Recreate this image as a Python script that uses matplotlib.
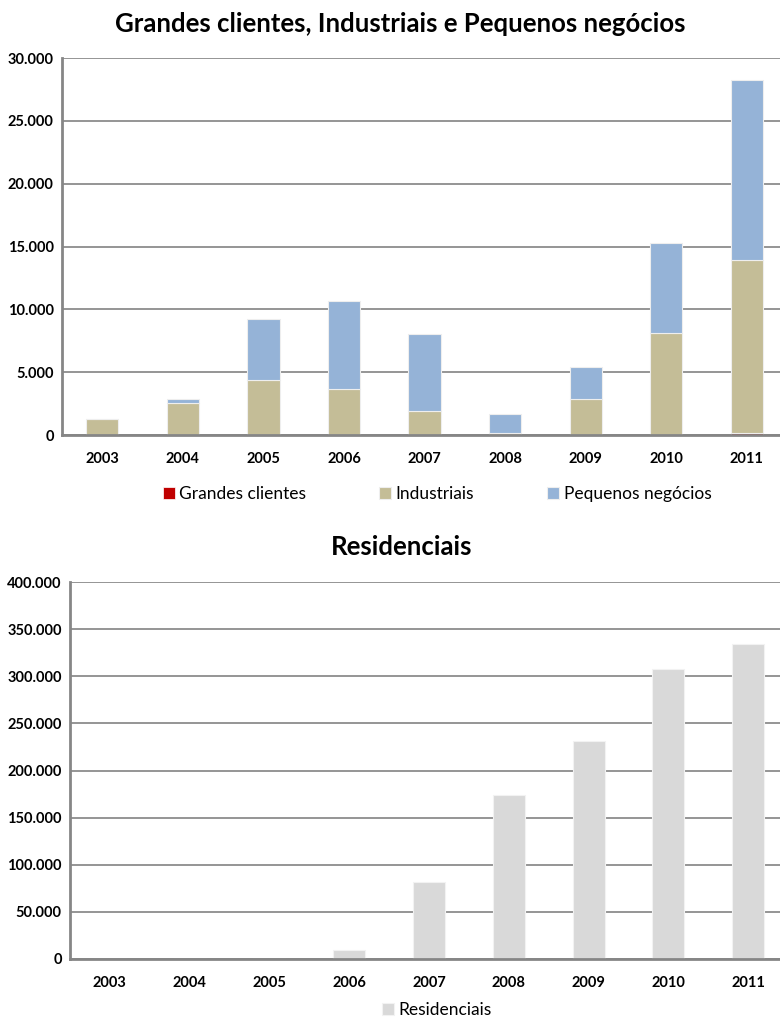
import numpy as np
import matplotlib.pyplot as plt
from matplotlib.ticker import FuncFormatter, MultipleLocator

plt.rcParams['font.family'] = ['Lato', 'DejaVu Sans']

anos = ['2003', '2004', '2005', '2006', '2007', '2008', '2009', '2010', '2011']

# Clientes por segmento (valores anuais)
grandes_clientes = [0, 0, 0, 0, 0, 0, 0, 0, 150]
industriais = [1270, 2520, 4380, 3630, 1940, 130, 2840, 8120, 13780]
pequenos_negocios = [0, 320, 4850, 7030, 6100, 1540, 2540, 7130, 14350]
residenciais = [0, 0, 0, 9200, 81800, 174200, 231500, 308000, 334200]

cor_grandes = '#C00000'
cor_ind = '#C4BD97'
cor_peq = '#95B3D7'
cor_res = '#D9D9D9'
cor_grade = '#8C8C8C'


def milhar(v, pos):
    return '{:,.0f}'.format(v).replace(',', '.')


def estilo_eixo(ax, ymax, passo):
    ax.set_xlim(-0.5, len(anos) - 0.5)
    ax.set_ylim(0, ymax)
    ax.yaxis.set_major_locator(MultipleLocator(passo))
    ax.yaxis.set_major_formatter(FuncFormatter(milhar))
    ax.set_xticks(range(len(anos)))
    ax.set_xticklabels(anos)
    ax.grid(axis='y', color=cor_grade, lw=1.3)
    ax.set_axisbelow(True)
    for s in ['top', 'right']:
        ax.spines[s].set_visible(False)
    for s in ['left', 'bottom']:
        ax.spines[s].set_color('#868686')
        ax.spines[s].set_linewidth(2)
    ax.tick_params(length=0, labelsize=10.5, pad=12)
    ax.tick_params(axis='y', pad=6)
    for lb in ax.get_xticklabels() + ax.get_yticklabels():
        lb.set_fontweight('bold')


fig = plt.figure(figsize=(7.8, 10.26), dpi=100)
x = np.arange(len(anos))
w = 0.4

# gráfico de cima: barras empilhadas
ax1 = fig.add_axes([62 / 780, 1 - 435 / 1026, 725 / 780, 377 / 1026])
g = np.array(grandes_clientes)
i = np.array(industriais)
p = np.array(pequenos_negocios)
b1 = ax1.bar(x, g, w, color=cor_grandes, edgecolor='white', lw=0.5, label='Grandes clientes')
b2 = ax1.bar(x, i, w, bottom=g, color=cor_ind, edgecolor='#EEEEEE', lw=0.8, label='Industriais')
b3 = ax1.bar(x, p, w, bottom=g + i, color=cor_peq, edgecolor='#EEEEEE', lw=0.8, label='Pequenos negócios')
estilo_eixo(ax1, 30000, 5000)
fig.text(400 / 780, 1 - 24 / 1026, 'Grandes clientes, Industriais e Pequenos negócios',
         ha='center', va='center', fontsize=18.5, fontweight='bold')
fig.legend(handles=[b1, b2, b3], loc='center', bbox_to_anchor=(437 / 780, 1 - 494 / 1026),
           ncol=3, frameon=False, fontsize=12.5, handlelength=0.7, handleheight=0.7,
           handletextpad=0.25, columnspacing=4.2)

# gráfico de baixo: residenciais
ax2 = fig.add_axes([70 / 780, 1 - 959 / 1026, 718 / 780, 377 / 1026])
b4 = ax2.bar(x, residenciais, w, color=cor_res, edgecolor='#F2F2F2', lw=0.8, label='Residenciais')
estilo_eixo(ax2, 400000, 50000)
fig.text(402 / 780, 1 - 547 / 1026, 'Residenciais', ha='center', va='center',
         fontsize=18.5, fontweight='bold')
fig.legend(handles=[b4], loc='center', bbox_to_anchor=(437 / 780, 1 - 1010 / 1026),
           frameon=False, fontsize=12.5, handlelength=0.7, handleheight=0.7,
           handletextpad=0.25)

fig.savefig('out.png', dpi=100)
